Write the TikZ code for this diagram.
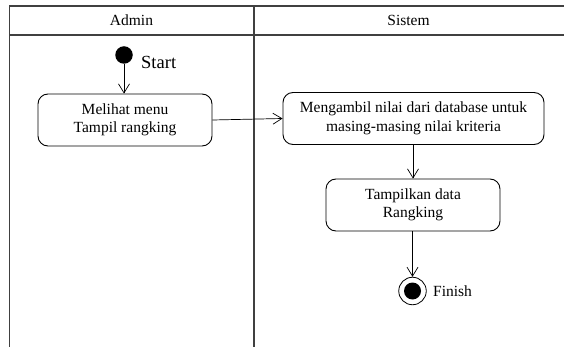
\documentclass[tikz,border=0pt]{standalone}
\usepackage{fontspec}
\setmainfont{Liberation Serif}
\usetikzlibrary{arrows.meta}
\begin{document}
\begin{tikzpicture}[x=1pt,y=-1pt,
  lane/.style={draw=black!75, line width=1.6pt},
  activity/.style={draw=black, line width=0.9pt, rounded corners=10pt,
    minimum height=52pt, inner sep=0pt, align=center,
    font=\fontsize{15.5}{18.5}\selectfont},
  flow/.style={draw=black, line width=0.7pt,
    -{Straight Barb[length=9pt,width=11pt,line width=0.7pt]}},
  lbl/.style={font=\fontsize{15.5}{18}\selectfont, inner sep=0pt}
]
\useasboundingbox (0,0) rectangle (564,347);

% swimlane frame
\draw[lane] (9.5,347) -- (9.5,6) -- (566,6);
\draw[lane] (9.5,35) -- (566,35);
\draw[lane] (254,6) -- (254,347);
\node[lbl] (hAdmin) at (131.5,20.5) {Admin};
\node[lbl] (hSistem) at (408.5,20.5) {Sistem};

% initial node
\node[circle, fill=black, minimum size=17.5pt, inner sep=0pt] (start) at (124,55) {};
\node[anchor=west, inner sep=0pt, font=\fontsize{18.5}{20}\selectfont] (startlbl) at (141,62) {Start};

% activities
\node[activity, minimum width=174pt] (melihat) at (125,120) {Melihat menu\\Tampil rangking};
\node[activity, minimum width=261pt] (ambil) at (413.5,118.5) {Mengambil nilai dari database untuk\\masing-masing nilai kriteria};
\node[activity, minimum width=174pt] (tampil) at (413,205) {Tampilkan data\\Rangking};

% final node
\node[circle, draw=black, line width=0.8pt, minimum size=27.5pt, inner sep=0pt] (finish) at (412.5,291) {};
\node[circle, fill=black, minimum size=17pt, inner sep=0pt] (finishdot) at (finish.center) {};
\node[anchor=west, lbl] (finishlbl) at (433,291) {Finish};

% control flows
\draw[flow] (start) -- (melihat.north -| start);
\draw[flow] (melihat.east) -- (ambil.west);
\draw[flow] (ambil.south -| tampil.north) -- (tampil.north);
\draw[flow] (tampil.south -| finish) -- (finish.north);
\end{tikzpicture}
\end{document}
